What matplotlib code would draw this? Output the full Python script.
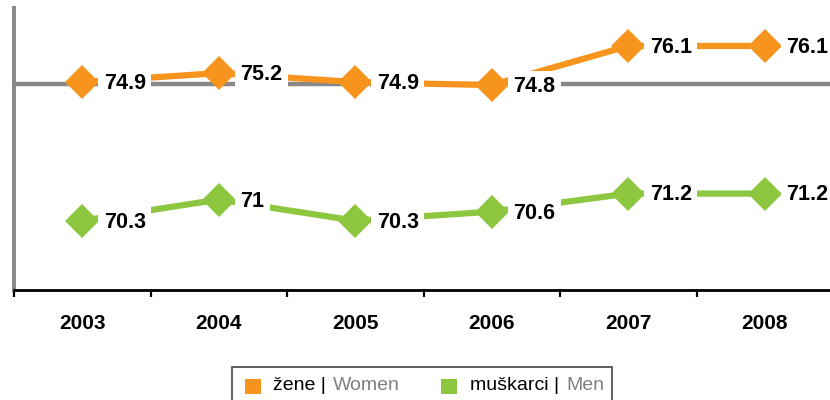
import matplotlib
matplotlib.use('Agg')
import matplotlib.pyplot as plt
from matplotlib.patches import Rectangle

plt.rcParams['font.family'] = ['Liberation Sans', 'DejaVu Sans']

years = ['2003', '2004', '2005', '2006', '2007', '2008']
women = [74.9, 75.2, 74.9, 74.8, 76.1, 76.1]
men = [70.3, 71.0, 70.3, 70.6, 71.2, 71.2]
women_labels = ['74.9', '75.2', '74.9', '74.8', '76.1', '76.1']
men_labels = ['70.3', '71', '70.3', '70.6', '71.2', '71.2']

orange = '#F7941D'
green = '#8DC63F'

fig = plt.figure(figsize=(8.3, 4.0), dpi=100)
ax = fig.add_axes([14/830, 0.275, 819/830, 0.705])

x = list(range(len(years)))

# reference line
ax.axhline(74.83, color='#888888', lw=3.2, zorder=1)

for vals, labs, col in [(women, women_labels, orange), (men, men_labels, green)]:
    ax.plot(x, vals, color=col, lw=4.5, marker='D', markersize=17.5,
            markeredgewidth=0, zorder=2, clip_on=False)
    for xi, v, lab in zip(x, vals, labs):
        ax.annotate(lab, (xi, v), xytext=(15.5, -1), textcoords='offset points',
                    ha='left', va='center', fontsize=15.5, fontweight='bold',
                    color='black', zorder=3,
                    bbox=dict(boxstyle='square,pad=0.25', fc='white', ec='none'))

ax.set_xlim(-0.5, 5.5)
ax.set_ylim(68, 77.36)

ax.set_xticks(x)
ax.set_xticklabels(years, fontsize=15, fontweight='bold')
ax.tick_params(axis='x', which='major', length=0, pad=17)
ax.set_xticks([i - 0.5 for i in range(len(years) + 1)], minor=True)
ax.tick_params(axis='x', which='minor', length=5, width=1.6, color='black', direction='out')
ax.set_yticks([])

for s in ['top', 'right']:
    ax.spines[s].set_visible(False)
ax.spines['left'].set_color('#888888')
ax.spines['left'].set_linewidth(2.8)
ax.spines['bottom'].set_color('black')
ax.spines['bottom'].set_linewidth(2)

# legend
fig.patches.append(Rectangle((232/830, -0.05), 380/830, 0.05 + 33/400,
                             transform=fig.transFigure, fc='white', ec='#444444', lw=1.2))
ly = 1 - 386/400
for sx, col in [(245, orange), (441, green)]:
    fig.patches.append(Rectangle((sx/830, 1 - 394/400), 16/830, 15/400,
                                 transform=fig.transFigure, fc=col, ec='none'))
fig.text(273/830, ly, 'žene | ', fontsize=14, va='center', ha='left', color='black')
fig.text(333/830, ly, 'Women', fontsize=14, va='center', ha='left', color='#808080')
fig.text(470/830, ly, 'muškarci | ', fontsize=14, va='center', ha='left', color='black')
fig.text(566/830, ly, 'Men', fontsize=14, va='center', ha='left', color='#808080')

fig.savefig('out.png', dpi=100)
